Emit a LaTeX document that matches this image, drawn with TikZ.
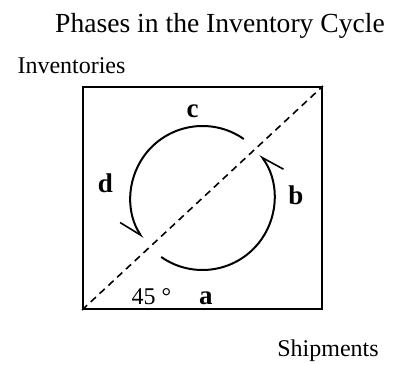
\documentclass[tikz,border=0pt]{standalone}
\usepackage{fontspec}
\setmainfont{Liberation Serif}
\usetikzlibrary{arrows.meta}

\begin{document}
\begin{tikzpicture}[
  x=0.5pt, y=0.5pt, every node/.style={font=\fontsize{12pt}{14pt}\selectfont},
  lbl/.style={anchor=base, inner sep=0pt},
  phase/.style={lbl, font=\fontsize{13.5pt}{16pt}\selectfont\bfseries},
  cyc/.style={line width=1pt, -{Straight Barb[right, length=11pt, width=10pt, line width=0.8pt]}}
]
\useasboundingbox (0,0) rectangle (393,365);

\node[lbl, font=\fontsize{13.8pt}{16pt}\selectfont] (title) at (220,332) {Phases in the Inventory Cycle};
\node[lbl] (inv)  at (71.5,291) {Inventories};
\node[lbl] (ship) at (328,8)    {Shipments};

\node[draw, line width=1pt, inner sep=0pt, minimum width=119.5pt, minimum height=111pt]
      (frame) at (202.5,167) {};
\draw[dash pattern=on 3.5pt off 2.5pt, line width=0.8pt] (frame.south west) -- (frame.north east);

% Les deux arcs du cycle, coupes par la diagonale a 45 degres.
\draw[cyc] (frame.center) ++(235:36pt) arc[start angle=235, end angle=397, radius=36pt];
\draw[cyc] (frame.center) ++(55:36pt)  arc[start angle=55,  end angle=214, radius=36pt];

\node[phase] (pa) at (206,60)    {a};
\node[phase] (pb) at (296,160)   {b};
\node[phase] (pc) at (192.5,247) {c};
\node[phase] (pd) at (105.5,172) {d};
\node[lbl] (ang) at (151.5,60) {45~°};
\end{tikzpicture}
\end{document}
